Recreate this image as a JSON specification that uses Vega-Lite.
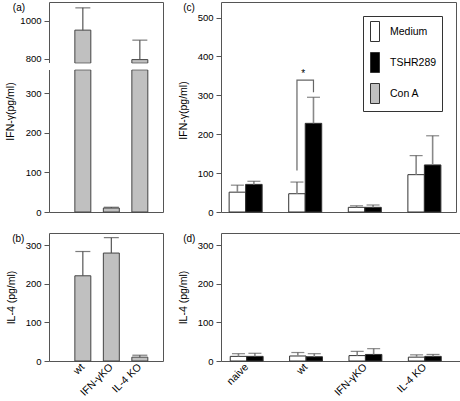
{
  "$schema": "https://vega.github.io/schema/vega-lite/v6.json",
  "padding": {"left": 5, "top": 1, "right": 0, "bottom": 0},
  "config": {
    "font": "Liberation Sans",
    "view": {"stroke": "#555", "strokeWidth": 1},
    "axis": {"grid": false, "domain": false, "domainColor": "#555", "tickColor": "#555", "tickSize": 5, "labelFontSize": 9.5, "labelColor": "#000", "titleFontSize": 10.5, "titleFontWeight": "normal", "titleColor": "#000", "labelPadding": 3, "titlePadding": 9},
    "axisQuantitative": {"format": "d"},
    "title": {"fontSize": 10, "fontWeight": "normal", "anchor": "start", "baseline": "top", "offset": -11, "color": "#000"}
  },
  "datasets": {
    "bars": [
      {"panel": "a", "strain": "wt", "stim": "Con A", "value": 951, "hi": 1069},
      {"panel": "a", "strain": "IFN-γKO", "stim": "Con A", "value": 10, "hi": 12},
      {"panel": "a", "strain": "IL-4 KO", "stim": "Con A", "value": 795, "hi": 898},
      {"panel": "b", "strain": "wt", "stim": "Con A", "value": 221, "hi": 284},
      {"panel": "b", "strain": "IFN-γKO", "stim": "Con A", "value": 280, "hi": 320},
      {"panel": "b", "strain": "IL-4 KO", "stim": "Con A", "value": 10, "hi": 15},
      {"panel": "c", "strain": "naive", "stim": "Medium", "value": 51, "hi": 69},
      {"panel": "c", "strain": "naive", "stim": "TSHR289", "value": 71, "hi": 79},
      {"panel": "c", "strain": "wt", "stim": "Medium", "value": 47, "hi": 77},
      {"panel": "c", "strain": "wt", "stim": "TSHR289", "value": 228, "hi": 295},
      {"panel": "c", "strain": "IFN-γKO", "stim": "Medium", "value": 12, "hi": 16},
      {"panel": "c", "strain": "IFN-γKO", "stim": "TSHR289", "value": 12, "hi": 18},
      {"panel": "c", "strain": "IL-4 KO", "stim": "Medium", "value": 96, "hi": 145},
      {"panel": "c", "strain": "IL-4 KO", "stim": "TSHR289", "value": 121, "hi": 196},
      {"panel": "d", "strain": "naive", "stim": "Medium", "value": 12, "hi": 19},
      {"panel": "d", "strain": "naive", "stim": "TSHR289", "value": 12, "hi": 20},
      {"panel": "d", "strain": "wt", "stim": "Medium", "value": 13, "hi": 22},
      {"panel": "d", "strain": "wt", "stim": "TSHR289", "value": 11, "hi": 19},
      {"panel": "d", "strain": "IFN-γKO", "stim": "Medium", "value": 14, "hi": 25},
      {"panel": "d", "strain": "IFN-γKO", "stim": "TSHR289", "value": 17, "hi": 32},
      {"panel": "d", "strain": "IL-4 KO", "stim": "Medium", "value": 10, "hi": 16},
      {"panel": "d", "strain": "IL-4 KO", "stim": "TSHR289", "value": 12, "hi": 17}
    ],
    "bracket": [
      {"strain": "wt", "stim": "Medium", "y": 107, "ord": 1},
      {"strain": "wt", "stim": "Medium", "y": 339, "ord": 2},
      {"strain": "wt", "stim": "TSHR289", "y": 339, "ord": 3},
      {"strain": "wt", "stim": "TSHR289", "y": 308, "ord": 4}
    ],
    "star": [
      {"strain": "wt", "label": "*", "y": 354}
    ]
  },
  "columns": 2,
  "bounds": "flush",
  "spacing": {"row": 21, "column": 58},
  "resolve": {"scale": {"x": "independent", "y": "independent", "xOffset": "independent", "fill": "independent"}},
  "concat": [
    {
      "width": 114, "height": 210,
      "view": {"stroke": null},
      "title": {"text": "(a)", "dx": 7},
      "data": {"name": "bars"},
      "transform": [{"filter": "datum.panel === 'a'"}],
      "resolve": {"axis": {"x": "independent", "y": "independent"}},
      "layer": [
        {
          "mark": {"type": "bar", "fill": "#c0c0c0", "stroke": "#444", "strokeWidth": 1},
          "encoding": {
            "x": {"field": "strain", "type": "nominal", "sort": null,
                  "scale": {"domain": ["wt", "IFN-γKO", "IL-4 KO"], "paddingInner": 0.44, "paddingOuter": 0.72, "align": 0.63},
                  "axis": {"orient": "bottom", "domain": true, "labels": false, "ticks": false, "title": null}},
            "y": {"field": "value", "type": "quantitative",
                  "scale": {"domain": [0, 358, 777, 1100], "range": [210, 68, 61, 0], "zero": false, "nice": false},
                  "axis": {"orient": "left", "domain": true, "values": [0, 100, 200, 300, 800, 1000], "title": "IFN-γ(pg/ml)", "titleY": 109, "titlePadding": 4}}
          }
        },
        {
          "mark": {"type": "rule", "color": "#555", "strokeWidth": 1.2},
          "encoding": {
            "x": {"field": "strain", "type": "nominal", "sort": null,
                  "axis": {"orient": "top", "domain": true, "labels": false, "ticks": false, "title": null}},
            "y": {"field": "value", "type": "quantitative",
                  "axis": {"orient": "right", "domain": true, "labels": false, "ticks": false, "title": null}},
            "y2": {"field": "hi"}
          }
        },
        {
          "mark": {"type": "rect", "fill": "white", "xOffset": -3, "x2Offset": 3},
          "encoding": {"y": {"datum": 358, "axis": null}, "y2": {"datum": 777}}
        },
        {
          "transform": [{"filter": "datum.value > 777"}],
          "mark": {"type": "tick", "color": "#444", "size": 16, "thickness": 1},
          "encoding": {
            "x": {"field": "strain", "type": "nominal", "sort": null, "axis": null},
            "y": {"datum": 358, "axis": null}
          }
        },
        {
          "transform": [{"filter": "datum.value > 777"}],
          "mark": {"type": "tick", "color": "#444", "size": 16, "thickness": 1},
          "encoding": {
            "x": {"field": "strain", "type": "nominal", "sort": null, "axis": null},
            "y": {"datum": 777, "axis": null}
          }
        },
        {
          "mark": {"type": "tick", "color": "#444", "size": 15, "thickness": 1.2},
          "encoding": {
            "x": {"field": "strain", "type": "nominal", "sort": null, "axis": null},
            "y": {"field": "hi", "type": "quantitative", "axis": null}
          }
        }
      ]
    },
    {
      "width": 235, "height": 210,
      "title": {"text": "(c)", "dx": 5},
      "data": {"name": "bars"},
      "transform": [{"filter": "datum.panel === 'c'"}],
      "encoding": {
        "x": {"field": "strain", "type": "nominal", "sort": null, "axis": null,
              "scale": {"domain": ["naive", "wt", "IFN-γKO", "IL-4 KO"], "paddingInner": 0.446, "paddingOuter": 0.195, "align": 0.35}}
      },
      "layer": [
        {
          "mark": {"type": "bar", "stroke": "#333", "strokeWidth": 1},
          "encoding": {
            "xOffset": {"field": "stim", "type": "nominal", "scale": {"domain": ["Medium", "TSHR289"], "paddingInner": 0, "paddingOuter": 0}},
            "y": {"field": "value", "type": "quantitative",
                  "scale": {"domain": [0, 540], "nice": false},
                  "axis": {"values": [0, 100, 200, 300, 400, 500], "title": "IFN-γ(pg/ml)", "titleY": 108}},
            "fill": {"field": "stim", "type": "nominal",
                     "scale": {"domain": ["Medium", "TSHR289", "Con A"], "range": ["#ffffff", "#000000", "#c0c0c0"]},
                     "legend": {"title": null, "orient": "top-right", "offset": 14, "padding": 5, "rowPadding": 6,
                                "labelOffset": 1, "labelFontSize": 10.5, "labelColor": "#000",
                                "strokeColor": "#333", "fillColor": "white",
                                "symbolType": "M-0.8,-1H0.1V1H-0.8Z", "symbolSize": 400,
                                "symbolStrokeColor": "#333", "symbolStrokeWidth": 1}}
          }
        },
        {
          "mark": {"type": "rule", "color": "#888", "strokeWidth": 1.6},
          "encoding": {
            "xOffset": {"field": "stim", "type": "nominal"},
            "y": {"field": "value", "type": "quantitative"}, "y2": {"field": "hi"}
          }
        },
        {
          "mark": {"type": "tick", "color": "#555", "size": 13, "thickness": 1.2},
          "encoding": {
            "xOffset": {"field": "stim", "type": "nominal"},
            "y": {"field": "hi", "type": "quantitative"}
          }
        },
        {
          "data": {"name": "bracket"},
          "transform": [],
          "mark": {"type": "line", "color": "#666", "strokeWidth": 1.2},
          "encoding": {
            "xOffset": {"field": "stim", "type": "nominal"},
            "y": {"field": "y", "type": "quantitative"},
            "order": {"field": "ord", "type": "quantitative"}
          }
        },
        {
          "data": {"name": "star"},
          "transform": [],
          "mark": {"type": "text", "fontSize": 10, "baseline": "middle", "color": "#000", "dx": -2},
          "encoding": {
            "y": {"field": "y", "type": "quantitative"},
            "text": {"field": "label"}
          }
        }
      ]
    },
    {
      "width": 114, "height": 128,
      "title": {"text": "(b)", "dx": 6},
      "data": {"name": "bars"},
      "transform": [{"filter": "datum.panel === 'b'"}],
      "encoding": {
        "x": {"field": "strain", "type": "nominal", "sort": null,
              "scale": {"domain": ["wt", "IFN-γKO", "IL-4 KO"], "paddingInner": 0.44, "paddingOuter": 0.72, "align": 0.63},
              "axis": {"title": null, "labelAngle": -45, "labelAlign": "right", "labelBaseline": "middle", "ticks": false, "tickSize": 0, "labelPadding": 4, "labelFontSize": 10.5}}
      },
      "layer": [
        {
          "mark": {"type": "bar", "fill": "#c0c0c0", "stroke": "#444", "strokeWidth": 1},
          "encoding": {
            "y": {"field": "value", "type": "quantitative",
                  "scale": {"domain": [0, 332], "nice": false},
                  "axis": {"values": [0, 100, 200, 300], "title": "IL-4 (pg/ml)"}}
          }
        },
        {
          "mark": {"type": "rule", "color": "#555", "strokeWidth": 1.2},
          "encoding": {"y": {"field": "value", "type": "quantitative"}, "y2": {"field": "hi"}}
        },
        {
          "mark": {"type": "tick", "color": "#444", "size": 15, "thickness": 1.2},
          "encoding": {"y": {"field": "hi", "type": "quantitative"}}
        }
      ]
    },
    {
      "width": 239, "height": 128,
      "title": {"text": "(d)", "dx": 5},
      "data": {"name": "bars"},
      "transform": [{"filter": "datum.panel === 'd'"}],
      "encoding": {
        "x": {"field": "strain", "type": "nominal", "sort": null,
              "scale": {"domain": ["naive", "wt", "IFN-γKO", "IL-4 KO"], "paddingInner": 0.446, "paddingOuter": 0.2357, "align": 0.33},
              "axis": {"title": null, "labelAngle": -45, "labelAlign": "right", "labelBaseline": "middle", "ticks": false, "tickSize": 0, "labelPadding": 4, "labelFontSize": 10.5}},
        "xOffset": {"field": "stim", "type": "nominal", "scale": {"domain": ["Medium", "TSHR289"], "paddingInner": 0, "paddingOuter": 0}}
      },
      "layer": [
        {
          "mark": {"type": "bar", "stroke": "#333", "strokeWidth": 1},
          "encoding": {
            "y": {"field": "value", "type": "quantitative",
                  "scale": {"domain": [0, 332], "nice": false},
                  "axis": {"values": [0, 100, 200, 300], "title": "IL-4 (pg/ml)"}},
            "fill": {"field": "stim", "type": "nominal",
                     "scale": {"domain": ["Medium", "TSHR289", "Con A"], "range": ["#ffffff", "#000000", "#c0c0c0"]},
                     "legend": null}
          }
        },
        {
          "mark": {"type": "rule", "color": "#888", "strokeWidth": 1.6},
          "encoding": {"y": {"field": "value", "type": "quantitative"}, "y2": {"field": "hi"}}
        },
        {
          "mark": {"type": "tick", "color": "#555", "size": 13, "thickness": 1.2},
          "encoding": {"y": {"field": "hi", "type": "quantitative"}}
        }
      ]
    }
  ]
}
